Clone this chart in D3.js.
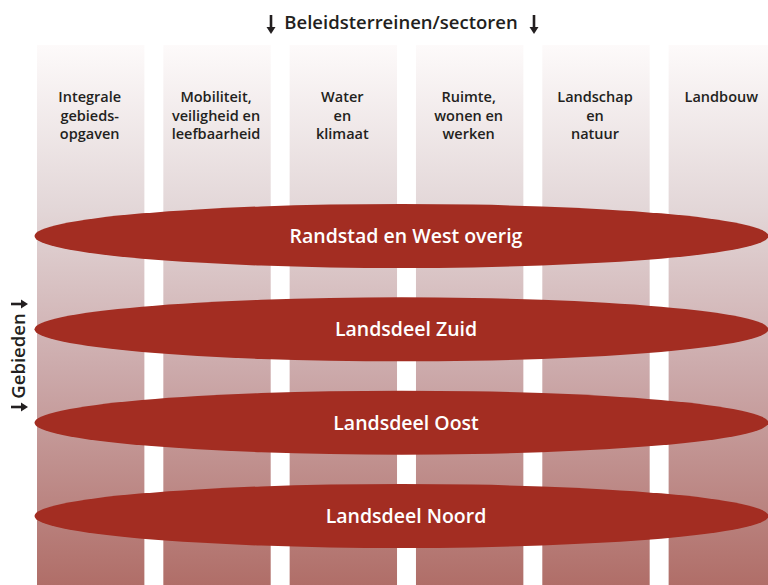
<!DOCTYPE html>
<html>
<head>
<meta charset="utf-8">
<script src="https://cdn.jsdelivr.net/npm/d3@7"></script>
<style>
  body { margin: 0; background: #fff; }
  svg { display: block; font-family: "Open Sans", "Noto Sans", sans-serif; }
</style>
</head>
<body>
<svg width="768" height="585"></svg>
<script>
// sectoren (kolommen) en gebieden (ellipsen)
var sectors = [
  ["Integrale", "gebieds-", "opgaven"],
  ["Mobiliteit,", "veiligheid en", "leefbaarheid"],
  ["Water", "en", "klimaat"],
  ["Ruimte,", "wonen en", "werken"],
  ["Landschap", "en", "natuur"],
  ["Landbouw"]
];
var regions = ["Randstad en West overig", "Landsdeel Zuid", "Landsdeel Oost", "Landsdeel Noord"];
var topTitle = "Beleidsterreinen/sectoren";
var sideTitle = "Gebieden";

var width = 768, height = 585;
var svg = d3.select("svg");

var defs = svg.append("defs");
var grad = defs.append("linearGradient")
  .attr("id", "colGrad")
  .attr("gradientUnits", "userSpaceOnUse")
  .attr("x1", 0).attr("y1", 45).attr("x2", 0).attr("y2", 585);
grad.append("stop").attr("offset", "0").attr("stop-color", "#fdfafa");
grad.append("stop").attr("offset", "0.3").attr("stop-color", "#e3d7d8");
grad.append("stop").attr("offset", "0.6").attr("stop-color", "#ccaaab");
grad.append("stop").attr("offset", "1").attr("stop-color", "#b06e68");

// kolommen
var x = d3.scaleBand()
  .domain(d3.range(sectors.length))
  .range([37, 776])
  .paddingInner(0.15);

var cols = svg.append("g").selectAll("g")
  .data(sectors)
  .enter().append("g");

cols.append("rect")
  .attr("x", function(d, i) { return x(i); })
  .attr("y", 45)
  .attr("width", x.bandwidth())
  .attr("height", height - 45)
  .attr("fill", "url(#colGrad)");

cols.append("text")
  .attr("text-anchor", "middle")
  .attr("fill", "#231f20")
  .style("font-size", "14.5px")
  .style("font-weight", 600)
  .selectAll("tspan")
  .data(function(d, i) { return d.map(function(t) { return {t: t, i: i}; }); })
  .enter().append("tspan")
  .attr("x", function(d) { return x(d.i) + x.bandwidth() / 2 - 1; })
  .attr("y", function(d, j) { return 102 + j * 18.5; })
  .text(function(d) { return d.t; });

// ellipsen
var y = d3.scalePoint()
  .domain(regions)
  .range([236, 516]);

var ell = svg.append("g").selectAll("g")
  .data(regions)
  .enter().append("g");

ell.append("ellipse")
  .attr("cx", 401.5)
  .attr("cy", function(d) { return y(d); })
  .attr("rx", 367)
  .attr("ry", 32)
  .attr("fill", "#a32d22");

ell.append("text")
  .attr("x", 406)
  .attr("y", function(d) { return y(d) + 7; })
  .attr("text-anchor", "middle")
  .attr("fill", "#fff")
  .style("font-size", "19.5px")
  .style("font-weight", 600)
  .text(function(d) { return d; });

// pijl naar beneden (in lokaal assenstelsel), lengte l
function arrow(g, l) {
  g.append("line")
    .attr("x1", 0).attr("y1", 0).attr("x2", 0).attr("y2", l - 5)
    .attr("stroke", "#231f20").attr("stroke-width", 2.6);
  g.append("path")
    .attr("d", "M-4.5," + (l - 7) + "L4.5," + (l - 7) + "L0," + l + "Z")
    .attr("fill", "#231f20");
}

// titels
svg.append("text")
  .attr("x", 401)
  .attr("y", 29)
  .attr("text-anchor", "middle")
  .attr("fill", "#231f20")
  .style("font-size", "18.5px")
  .style("font-weight", 600)
  .text(topTitle);
arrow(svg.append("g").attr("transform", "translate(271,15)"), 19);
arrow(svg.append("g").attr("transform", "translate(534,15)"), 19);

var side = svg.append("g").attr("transform", "translate(25,356) rotate(-90)");
side.append("text")
  .attr("x", 0)
  .attr("y", 0)
  .attr("text-anchor", "middle")
  .attr("fill", "#231f20")
  .style("font-size", "18.5px")
  .style("font-weight", 600)
  .text(sideTitle);
arrow(side.append("g").attr("transform", "translate(-51,-14)"), 17);
arrow(side.append("g").attr("transform", "translate(52,-14)"), 17);
</script>
</body>
</html>
